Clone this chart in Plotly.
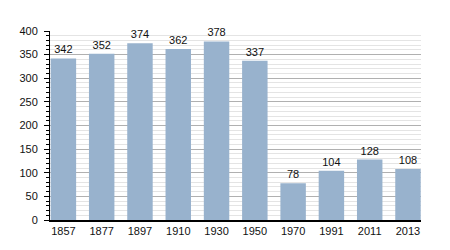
import plotly.graph_objects as go

years = ["1857", "1877", "1897", "1910", "1930", "1950", "1970", "1991", "2011", "2013"]
population = [342, 352, 374, 362, 378, 337, 78, 104, 128, 108]

fig = go.Figure(go.Bar(
    x=years, y=population,
    marker=dict(color="#98b2cd", line=dict(width=0)),
    text=[str(v) for v in population], textposition="outside",
    textfont=dict(size=11, color="#111"),
    cliponaxis=False, width=0.665,
))

fig.update_layout(
    width=450, height=250,
    margin=dict(l=50, r=29, t=31, b=30),
    paper_bgcolor="white", plot_bgcolor="white",
    font=dict(family="Liberation Sans, Arial, sans-serif", size=11, color="#111"),
    showlegend=False,
    xaxis=dict(type="category", range=[-0.35, 9.34], showline=True, linecolor="black",
               linewidth=1.5, ticks="", showgrid=False, tickfont=dict(size=11)),
    yaxis=dict(range=[0, 400], dtick=50, showline=True, linecolor="black", linewidth=1,
               ticks="outside", ticklen=5, tickcolor="black", ticklabelstandoff=4,
               showgrid=True, gridcolor="#b0b0b0", gridwidth=1,
               minor=dict(dtick=10, ticks="outside", ticklen=3, tickcolor="black",
                          showgrid=True, gridcolor="#e4e4e4", gridwidth=1),
               zeroline=False, tickfont=dict(size=11)),
)

fig.write_html("out.html")
